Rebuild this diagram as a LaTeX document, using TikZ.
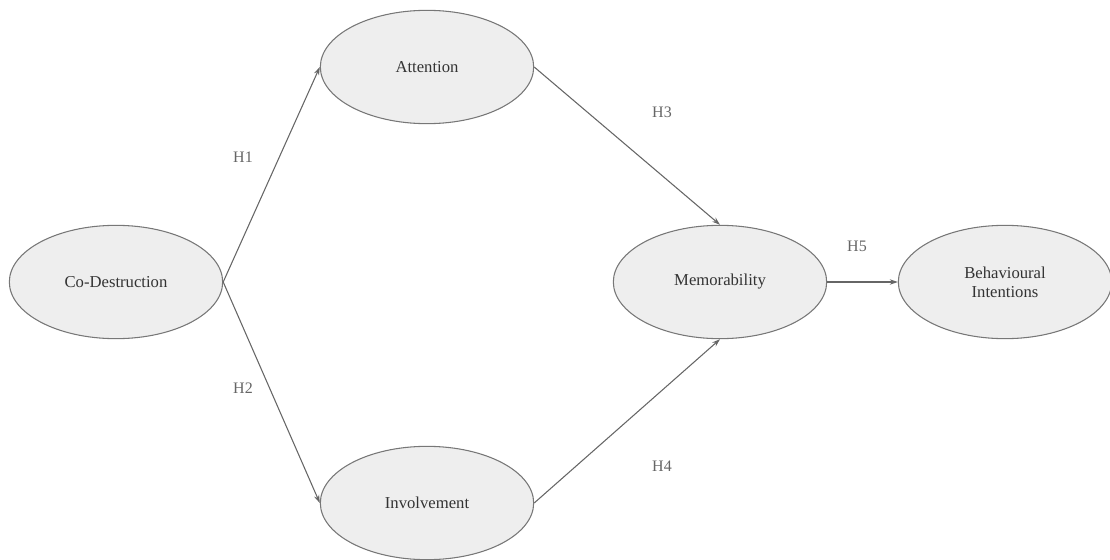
\documentclass[tikz,border=0pt]{standalone}
\usepackage{fontspec}
\setmainfont{Liberation Serif}
\usetikzlibrary{shapes.geometric,arrows.meta}
\definecolor{ellfill}{HTML}{EEEEEE}
\definecolor{elldraw}{HTML}{777777}
\definecolor{txt}{HTML}{333333}
\definecolor{lbl}{HTML}{666666}
\definecolor{lin}{HTML}{666666}
\begin{document}
\begin{tikzpicture}[x=0.75pt,y=-0.75pt,
  construct/.style={ellipse,draw=elldraw,fill=ellfill,line width=0.8pt,
    minimum width=160pt,minimum height=85pt,inner sep=0pt,
    text=txt,font=\fontsize{12.5}{14}\selectfont,align=center},
  hyp/.style={text=lbl,font=\fontsize{12}{14}\selectfont},
  link/.style={draw=lin,line width=0.8pt,-{Stealth[length=6pt,width=4pt]}}]
\useasboundingbox (0,0) rectangle (1110,560);
\node[construct] (cd) at (116,282) {Co-Destruction};
\node[construct] (att) at (427,67) {Attention};
\node[construct] (inv) at (427,503) {Involvement};
\node[construct] (mem) at (720,282) {Memorability};
\node[construct] (bi) at (1005,282) {Behavioural\\Intentions};
\draw[link] (cd.east) -- (att.west);
\draw[link] (cd.east) -- (inv.west);
\draw[link] (att.east) -- (mem.north);
\draw[link] (inv.east) -- (mem.south);
\draw[link] (mem.east) -- (bi.west);
\node[hyp] (h1) at (243,157) {H1};
\node[hyp] (h2) at (243,388) {H2};
\node[hyp] (h3) at (662,112) {H3};
\node[hyp] (h4) at (662,466) {H4};
\node[hyp] (h5) at (857,246) {H5};
\end{tikzpicture}
\end{document}
